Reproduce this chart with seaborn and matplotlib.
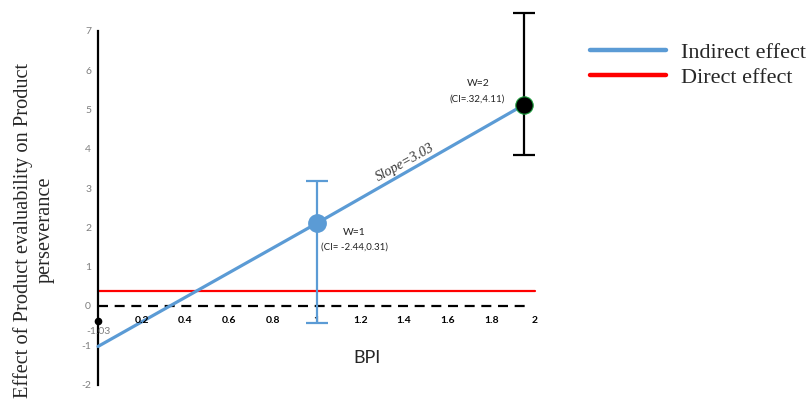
import numpy as np
import pandas as pd
import seaborn as sns
import matplotlib.pyplot as plt
from matplotlib.lines import Line2D

# values
bpi = [0, 1, 1.95]
indirect = [-1.03, 2.1, 5.12]
direct_x = [0, 2]
direct_y = [0.38, 0.38]
zero_x = [0, 1.98]
zero_y = [0, 0]
w_points = ["W=1", "W=2"]
ci_low = [-0.43, 3.84]
ci_high = [3.18, 7.46]
ci_labels = ["(CI= -2.44,0.31)", "(CI=.32,4.11)"]
point_colors = ["#5B9BD5", "black"]
xticks = [0.2, 0.4, 0.6, 0.8, 1, 1.2, 1.4, 1.6, 1.8, 2]
yticks = [-2, -1, 0, 1, 2, 3, 4, 5, 6, 7]

sns.set_style("white")
plt.rcParams["font.family"] = ["Lato", "DejaVu Sans"]

fig = plt.figure(figsize=(8.12, 4.03), dpi=100)
ax = fig.add_axes([0.0669, 0.0067, 0.6458, 0.9898])

blue = "#5B9BD5"
red = "#FF0000"

df_ind = pd.DataFrame({"BPI": bpi, "effect": indirect})
sns.lineplot(data=df_ind, x="BPI", y="effect", color=blue, lw=2.3, ax=ax, zorder=3)
sns.lineplot(x=direct_x, y=direct_y, color=red, lw=1.6, ax=ax, zorder=2)
ax.plot(zero_x, zero_y, color="black", lw=1.6, ls=(0, (4.5, 3)), zorder=2)

# confidence intervals
for i in range(2):
    ax.errorbar(bpi[i + 1], (ci_low[i] + ci_high[i]) / 2,
                yerr=(ci_high[i] - ci_low[i]) / 2, fmt="none",
                ecolor=point_colors[i], elinewidth=1.6, capsize=8, capthick=1.6, zorder=4)
ax.plot(bpi[1], indirect[1], "o", ms=12.5, color=blue, zorder=5)
ax.plot(bpi[2], indirect[2], "o", ms=12.5, color="black", mec="#1a9a3a", mew=0.8, zorder=5)

# axes styling
for s in ["top", "right", "bottom"]:
    ax.spines[s].set_visible(False)
ax.spines["left"].set_position(("data", 0))
ax.spines["left"].set_bounds(-2, 7)
ax.spines["left"].set_linewidth(1.6)
ax.spines["left"].set_color("black")
ax.set_xlim(-0.2, 2.2)
ax.set_ylim(-2.4, 7.75)
ax.set_yticks(yticks)
ax.set_yticklabels([str(v) for v in yticks])
ax.tick_params(axis="y", length=0, pad=5, labelsize=7.5, labelcolor="#7f7f7f")
ax.set_xticks([])
ax.set_xlabel("")
ax.set_ylabel("")
for v in xticks:
    ax.text(v, -0.38, f"{v:g}", ha="center", va="center", fontsize=7.5,
            fontweight="bold", color="black")
ax.plot(0, -0.37, "o", ms=4.5, color="black", clip_on=False)
ax.text(0, -0.66, "-1.03", ha="center", va="center", fontsize=7.5, color="#7f7f7f")

# annotations
ax.text(1.172, 1.86, w_points[0], ha="center", va="center", fontsize=7.5, color="#222222")
ax.text(1.176, 1.50, ci_labels[0], ha="center", va="center", fontsize=7, color="#222222")
ax.text(1.739, 5.65, w_points[1], ha="center", va="center", fontsize=7.5, color="#222222")
ax.text(1.735, 5.27, ci_labels[1], ha="center", va="center", fontsize=7, color="#222222")
ax.text(1.405, 3.64, "Slope=3.03", ha="center", va="center", fontsize=10,
        family="Liberation Serif", style="italic", rotation=29, color="#333333")

fig.text(367 / 812, 1 - 358 / 403, "BPI", ha="center", va="center", fontsize=13)
fig.text(34 / 812, 1 - 230 / 403, "Effect of Product evaluability on Product\nperseverance",
         ha="center", va="center", rotation=90, fontsize=14.7,
         family="Liberation Serif", linespacing=1.15)

handles = [Line2D([], [], color=blue, lw=3.2), Line2D([], [], color=red, lw=3.2)]
fig.legend(handles, ["Indirect effect", "Direct effect"], loc="upper left",
           bbox_to_anchor=(590 / 812, 1 - 42 / 403), frameon=False,
           prop={"family": "Liberation Serif", "size": 16}, handlelength=3.4,
           handletextpad=0.7, labelspacing=0.2, borderpad=0, borderaxespad=0)

fig.savefig("out.png", dpi=100)
